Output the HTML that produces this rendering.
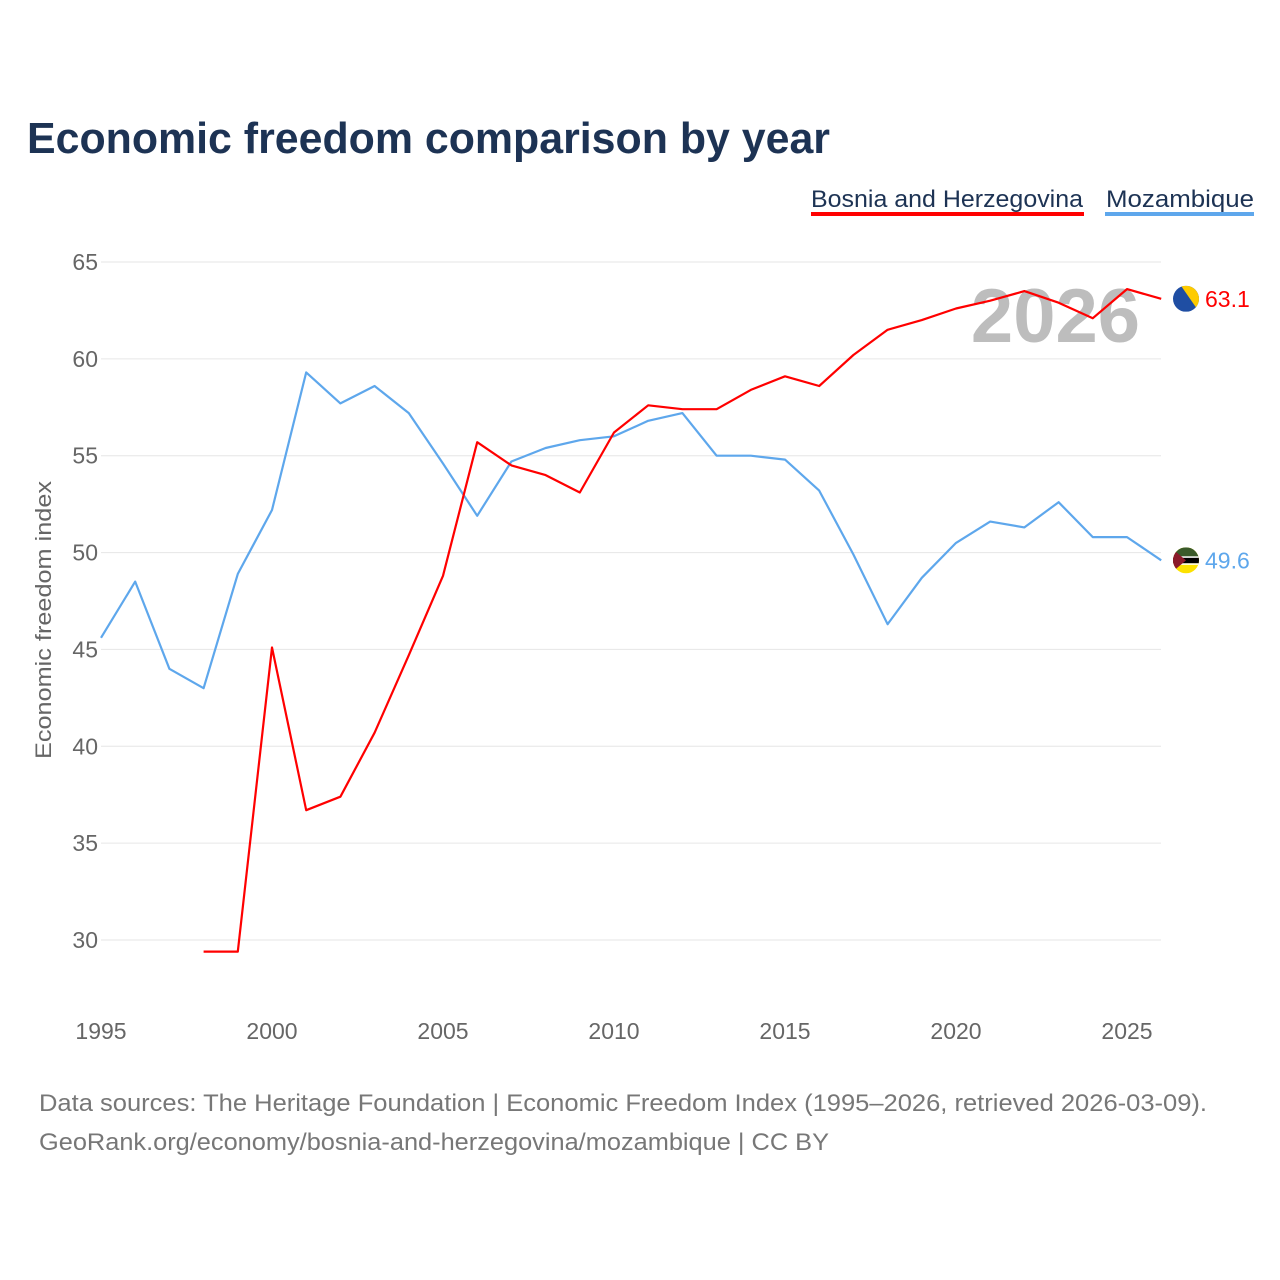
<!DOCTYPE html>
<html><head><meta charset="utf-8">
<style>
html,body{margin:0;padding:0;background:#fff;}
body{width:1280px;height:1280px;position:relative;font-family:"Liberation Sans",sans-serif;overflow:hidden;}
</style></head>
<body>
<svg id="chart" width="1280" height="1280" xmlns="http://www.w3.org/2000/svg" style="position:absolute;left:0;top:0">
<defs>
<clipPath id="c1"><circle cx="1186" cy="299" r="13"/></clipPath>
<clipPath id="c2"><circle cx="1186" cy="560" r="13"/></clipPath>
</defs>
<text x="27" y="153" font-size="44" font-weight="bold" fill="#1d3354" textLength="803" lengthAdjust="spacingAndGlyphs">Economic freedom comparison by year</text>
<g>
<text x="811" y="207" font-size="24" fill="#1d3354" textLength="272" lengthAdjust="spacingAndGlyphs">Bosnia and Herzegovina</text>
<rect x="811" y="212" width="273" height="4" fill="#ff0000"/>
</g>
<g>
<text x="1106" y="207" font-size="24" fill="#1d3354" textLength="148" lengthAdjust="spacingAndGlyphs">Mozambique</text>
<rect x="1105" y="212" width="149" height="4" fill="#5ea7ec"/>
</g>
<text x="1140" y="342" text-anchor="end" font-size="76" font-weight="bold" fill="#bdbdbd">2026</text>
<g id="grid"></g>
<g id="xticks"></g>
<text transform="translate(51,620) rotate(-90)" text-anchor="middle" font-size="22" fill="#666" textLength="278" lengthAdjust="spacingAndGlyphs">Economic freedom index</text>
<g id="series"></g>
<text x="39" y="1111" font-size="24" fill="#777" textLength="1168" lengthAdjust="spacingAndGlyphs">Data sources: The Heritage Foundation | Economic Freedom Index (1995–2026, retrieved 2026-03-09).</text>
<text x="39" y="1150" font-size="24" fill="#777" textLength="790" lengthAdjust="spacingAndGlyphs">GeoRank.org/economy/bosnia-and-herzegovina/mozambique | CC BY</text>
</svg>
<script>
const years = [1995,1996,1997,1998,1999,2000,2001,2002,2003,2004,2005,2006,2007,2008,2009,2010,2011,2012,2013,2014,2015,2016,2017,2018,2019,2020,2021,2022,2023,2024,2025,2026];
const bosnia = [null,null,null,29.4,29.4,45.1,36.7,37.4,40.7,44.7,48.8,55.7,54.5,54.0,53.1,56.2,57.6,57.4,57.4,58.4,59.1,58.6,60.2,61.5,62.0,62.6,63.0,63.5,62.9,62.1,63.6,63.1];
const mozambique = [45.6,48.5,44.0,43.0,48.9,52.2,59.3,57.7,58.6,57.2,54.6,51.9,54.7,55.4,55.8,56.0,56.8,57.2,55.0,55.0,54.8,53.2,49.9,46.3,48.7,50.5,51.6,51.3,52.6,50.8,50.8,49.6];
const yTicks = [30,35,40,45,50,55,60,65];
const xTicks = [1995,2000,2005,2010,2015,2020,2025];

const NS="http://www.w3.org/2000/svg";
const xS = y => 101 + (y-1995)*(1127-101)/30;
const yS = v => 262 + (65-v)*(940-262)/35;
function mk(tag, attrs, parent){const e=document.createElementNS(NS,tag);for(const k in attrs)e.setAttribute(k,attrs[k]);parent.appendChild(e);return e;}

const grid=document.getElementById('grid');
yTicks.forEach(t=>{
  const l=mk('line',{x1:101,x2:1161,y1:yS(t),y2:yS(t),stroke:'#e6e6e6','stroke-width':1},grid);
  
  
  const tx=mk('text',{x:98,y:yS(t)+8,'text-anchor':'end','font-size':23,fill:'#666'},grid);
  tx.textContent=t;
  
  
});
const xt=document.getElementById('xticks');
xTicks.forEach(t=>{
  const tx=mk('text',{x:xS(t),y:1039,'text-anchor':'middle','font-size':23,fill:'#666'},xt);
  tx.textContent=t;
  
  
});

const ser=document.getElementById('series');
function line(vals,color,name){
  let d='',pen=false;
  vals.forEach((v,i)=>{ if(v==null){pen=false;return;} d+=(pen?'L':'M')+xS(years[i]).toFixed(1)+','+yS(v).toFixed(1); pen=true;});
  const p=mk('path',{d:d,fill:'none',stroke:color,'stroke-width':2.2,'stroke-linejoin':'round'},ser);
  
  
}
line(mozambique,'#5ea7ec','mozambique-line');
line(bosnia,'#ff0000','bosnia-line');

function endLabel(vals,color,name,flag,clip){
  const v=vals[vals.length-1], y=yS(v), x=1186;
  const g=mk('g',{},ser);
  
  
  const fg=mk('g',{},g);
  document.getElementById(clip).firstElementChild.setAttribute('cy',y);
  fg.setAttribute('clip-path','url(#'+clip+')');
  flag(fg,x,y);
  const t=mk('text',{x:1205,y:y+8,'font-size':23,fill:color},g);
  t.textContent=v.toFixed(1);
}
endLabel(bosnia,'#ff0000','bosnia-end-label',(g,x,y)=>{
  mk('rect',{x:x-13,y:y-13,width:26,height:26,fill:'#1f4ea3'},g);
  mk('path',{d:`M${x-5},${y-13} L${x+13},${y-13} L${x+13},${y+13} Z`,fill:'#fecb00'},g);
},'c1');
endLabel(mozambique,'#5ea7ec','mozambique-end-label',(g,x,y)=>{
  mk('rect',{x:x-13,y:y-13,width:26,height:26,fill:'#fce100'},g);
  mk('rect',{x:x-13,y:y-13,width:26,height:10,fill:'#3a5a2a'},g);
  mk('rect',{x:x-13,y:y-3,width:26,height:6,fill:'#000'},g);
  mk('rect',{x:x-13,y:y-4,width:26,height:1.5,fill:'#fff'},g);
  mk('rect',{x:x-13,y:y+3,width:26,height:1.5,fill:'#fff'},g);
  mk('path',{d:`M${x-13},${y-11} L${x},${y} L${x-13},${y+11} Z`,fill:'#8b1a2a'},g);
},'c2');
</script>
</body></html>
